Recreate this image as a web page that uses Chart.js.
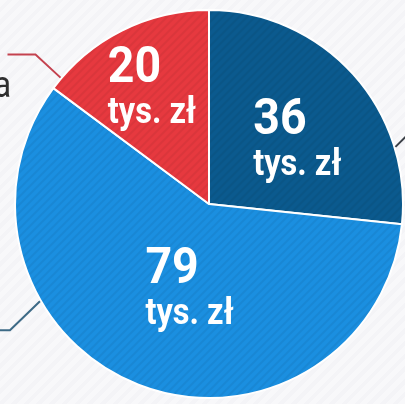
<!DOCTYPE html>
<html lang="pl">
<head>
<meta charset="utf-8">
<title>Wykres kołowy</title>
<script src="https://cdn.jsdelivr.net/npm/chart.js@4.4.1/dist/chart.umd.min.js"></script>
<style>
    html, body { margin: 0; padding: 0; }
    body {
        width: 405px; height: 404px; overflow: hidden;
        background: repeating-linear-gradient(135deg, #f8f8fa 0 5px, #f4f4f7 5px 9px);
    }
    #wykres { display: block; }
</style>
</head>
<body>
<canvas id="wykres" width="405" height="404"></canvas>
<script>
// Dane wykresu (tys. zł)
const kategorie = ['A', 'B', 'C'];
const wartosci = [36, 79, 20];
const jednostka = 'tys. zł';
const koloryWycinkow = ['#0b5a8e', '#1b8fe0', '#e6393f'];
const koloryLinii = ['#3a3f46', '#3d6a86', '#c4424f'];

// Diagonal stripe texture, like the printed original
function criarPadrao(cor) {
    const c = document.createElement('canvas');
    c.width = 8; c.height = 8;
    const g = c.getContext('2d');
    g.fillStyle = cor;
    g.fillRect(0, 0, 8, 8);
    g.strokeStyle = 'rgba(0,0,0,0.05)';
    g.lineWidth = 2;
    g.beginPath();
    g.moveTo(-2, 10); g.lineTo(10, -2);
    g.moveTo(-2, 2); g.lineTo(2, -2);
    g.moveTo(6, 10); g.lineTo(10, 6);
    g.stroke();
    return g.createPattern(c, 'repeat');
}

// condensed text: draw with horizontal squeeze
function tekstWasko(ctx, txt, x, y, sx) {
    ctx.save();
    ctx.translate(x, y);
    ctx.scale(sx, 1);
    ctx.fillText(txt, 0, 0);
    ctx.restore();
}

// Labels: big number + unit, left aligned block near slice centre
const pluginEtykiety = {
    id: 'etykiety',
    afterDatasetsDraw(chart, args, opts) {
        const ctx = chart.ctx;
        const meta = chart.getDatasetMeta(0);
        meta.data.forEach((arc, i) => {
            const p = arc.getProps(['x', 'y', 'startAngle', 'endAngle', 'outerRadius'], true);
            const mid = (p.startAngle + p.endAngle) / 2 + opts.przesuniecie[i] * Math.PI / 180;
            const r = p.outerRadius * opts.promien[i];
            const cx = p.x + Math.cos(mid) * r;
            const cy = p.y + Math.sin(mid) * r;

            ctx.save();
            ctx.fillStyle = '#ffffff';
            ctx.textBaseline = 'alphabetic';
            ctx.font = 'bold 50px Roboto';
            const wNum = ctx.measureText(String(wartosci[i])).width * opts.skalaLiczby;
            ctx.font = 'bold 37px Roboto';
            const wJed = ctx.measureText(jednostka).width * opts.skalaJednostki;
            const left = cx - Math.max(wNum, wJed) / 2;
            const top = cy - 39;

            ctx.font = 'bold 50px Roboto';
            tekstWasko(ctx, String(wartosci[i]), left, top + 36, opts.skalaLiczby);
            ctx.font = 'bold 37px Roboto';
            tekstWasko(ctx, jednostka, left, top + 77, opts.skalaJednostki);
            ctx.restore();
        });
    }
};

// Leader lines going out of the pie towards (cut off) captions
const pluginLinie = {
    id: 'linie',
    afterDatasetsDraw(chart, args, opts) {
        const ctx = chart.ctx;
        const meta = chart.getDatasetMeta(0);
        opts.linie.forEach(l => {
            const arc = meta.data[l.wycinek];
            const p = arc.getProps(['x', 'y', 'startAngle', 'endAngle', 'outerRadius'], true);
            const a = p.startAngle + (p.endAngle - p.startAngle) * l.pozycja;
            const x0 = p.x + Math.cos(a) * (p.outerRadius + 1);
            const y0 = p.y + Math.sin(a) * (p.outerRadius + 1);
            const x1 = x0 + l.dx;
            const y1 = y0 + l.dy;
            ctx.save();
            ctx.strokeStyle = koloryLinii[l.wycinek];
            ctx.lineWidth = 2;
            ctx.beginPath();
            ctx.moveTo(x0, y0);
            ctx.lineTo(x1, y1);
            if (l.poziomo) ctx.lineTo(x1 + l.poziomo, y1);
            ctx.stroke();
            ctx.restore();
        });
        // end of the caption next to the red leader
        ctx.save();
        ctx.fillStyle = '#2f2f2f';
        ctx.font = '36px Roboto';
        ctx.textAlign = 'right';
        tekstWasko(ctx, 'a', 11, 97, 0.9);
        ctx.restore();
    }
};

function desenharGrafico() {
    const ctx = document.getElementById('wykres').getContext('2d');
    new Chart(ctx, {
        type: 'pie',
        data: {
            labels: kategorie,
            datasets: [{
                data: wartosci,
                backgroundColor: koloryWycinkow.map(criarPadrao),
                borderColor: '#ffffff',
                borderWidth: 2
            }]
        },
        options: {
            responsive: false,
            animation: false,
            layout: { padding: { left: 14, right: 1, top: 9, bottom: 5 } },
            plugins: {
                legend: { display: false },
                tooltip: { enabled: false },
                etykiety: {
                    promien: [0.57, 0.435, 0.68],
                    przesuniecie: [5, -8, 1],
                    skalaLiczby: 0.93,
                    skalaJednostki: 0.88
                },
                linie: {
                    linie: [
                        { wycinek: 0, pozycja: 0.76, dx: 12, dy: -12 },
                        { wycinek: 1, pozycja: 0.684, dx: -30, dy: 29, poziomo: -20 },
                        { wycinek: 2, pozycja: 0.07, dx: -25, dy: -23, poziomo: -28 }
                    ]
                }
            }
        },
        plugins: [pluginEtykiety, pluginLinie]
    });
}

window.onload = desenharGrafico;
</script>
</body>
</html>
